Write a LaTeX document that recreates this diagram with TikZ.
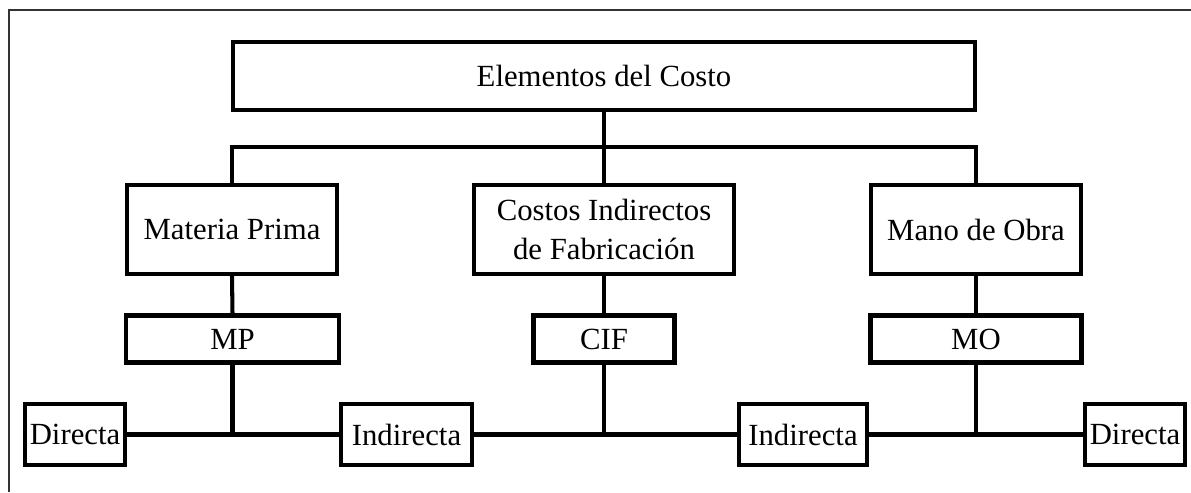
\documentclass[tikz,border=0pt]{standalone}
\usepackage{fontspec}
\setmainfont{Liberation Serif}
\usepackage{xcolor}
\tikzset{
	costbox/.style={draw, line width=2.3pt, inner sep=0pt, align=center,
	  font=\fontsize{17.5}{22}\selectfont},
	link/.style={line width=2.3pt}
}

\begin{document}
\begin{tikzpicture}
% page of 1191 x 492 px, 1 px = 0.02 cm
\useasboundingbox (0, 0) rectangle (23.82, -9.84);
\draw[line width=0.8pt, black!80] (0.18, -9.84) -- (0.18, -0.2) -- (23.82, -0.2);

% top level
\node[costbox, minimum width=14.84cm, minimum height=1.36cm] (top) at (12.08, -1.52) {Elementos del Costo};

% the three elements
\node[costbox, minimum width=4.2cm, minimum height=1.78cm] (mp) at (4.64, -4.59) {Materia Prima};
\node[costbox, minimum width=5.2cm, minimum height=1.78cm] (cif) at (12.08, -4.59) {Costos Indirectos\\de Fabricaci\'on};
\node[costbox, minimum width=4.2cm, minimum height=1.78cm] (mo) at (19.52, -4.59) {Mano de Obra};

% abbreviations
\node[costbox, minimum width=4.26cm, minimum height=0.94cm] (mpS) at (4.65, -6.78) {MP};
\node[costbox, minimum width=2.82cm, minimum height=0.94cm] (cifS) at (12.08, -6.78) {CIF};
\node[costbox, minimum width=4.22cm, minimum height=0.94cm] (moS) at (19.52, -6.78) {MO};

% direct / indirect
\node[costbox, minimum width=2.0cm, minimum height=1.22cm] (dirL) at (1.5, -8.69) {Directa};
\node[costbox, minimum width=2.62cm, minimum height=1.22cm] (indL) at (8.13, -8.69) {Indirecta};
\node[costbox, minimum width=2.56cm, minimum height=1.22cm] (indR) at (16.06, -8.69) {Indirecta};
\node[costbox, minimum width=2.0cm, minimum height=1.22cm] (dirR) at (22.7, -8.69) {Directa};

\coordinate (bar) at (12.08, -2.94);

\draw[link] (top.south) -- (cif.north);
\draw[link] (mp.north) -- (mp.north |- bar) -- (mo.north |- bar) -- (mo.north);
\draw[link] (mp.south) -- (mpS.north);
\draw[link] (cif.south) -- (cifS.north);
\draw[link] (mo.south) -- (moS.north);

\draw[link] (dirL.east) -- (indL.west);
\draw[link] (indL.east) -- (indR.west);
\draw[link] (indR.east) -- (dirR.west);
\draw[link] (mpS.south) -- (mpS.south |- dirL.east);
\draw[link] (cifS.south) -- (cifS.south |- dirL.east);
\draw[link] (moS.south) -- (moS.south |- dirL.east);
\end{tikzpicture}
\end{document}
